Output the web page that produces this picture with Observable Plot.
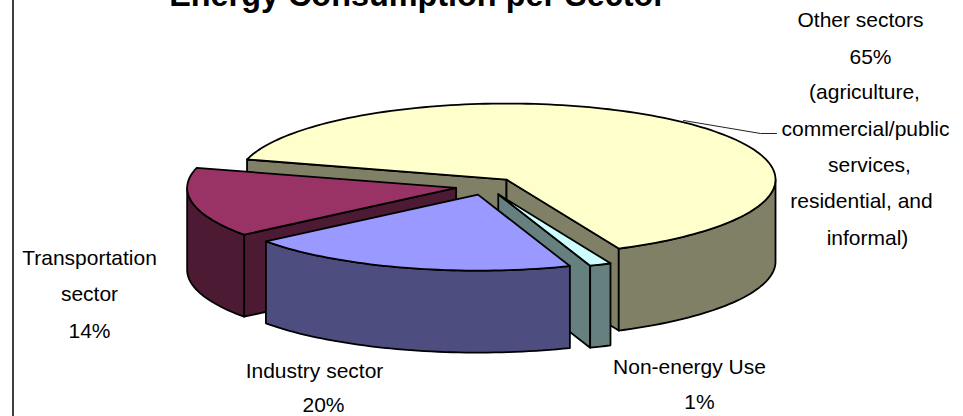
<!DOCTYPE html>
<html>
<head>
<meta charset="utf-8">
<script src="https://cdn.jsdelivr.net/npm/d3@7"></script>
<script src="https://cdn.jsdelivr.net/npm/@observablehq/plot@0.6"></script>
<style>
html,body{margin:0;padding:0;background:#fff}
svg{display:block}
</style>
</head>
<body>
<div id="chart"></div>
<script>
// Sectors in clockwise drawing order, starting from the pie's rear-left cut.
const sectors = ["Other sectors", "Non-energy Use", "Industry sector", "Transportation sector"];
const shares = [63.9, 1.3, 20, 14.8];
const topColors = ["#FFFFCC", "#CCFFFF", "#9999FF", "#993366"];
const sideColors = ["#808066", "#668080", "#4D4D80", "#4D1A33"];
const paintOrder = ["Other sectors", "Transportation sector", "Non-energy Use", "Industry sector"];

const titleText = "Energy Consumption per Sector";
const labelLines = [
  "Other sectors", "65%", "(agriculture,", "commercial/public", "services,", "residential, and", "informal)",
  "Transportation", "sector", "14%", "Industry sector", "20%", "Non-energy Use", "1%"
];
const labelXs = [860, 870, 864, 865, 869, 861, 867, 89, 89, 89, 314, 323, 689, 699];
const labelYs = [20, 57, 92, 129, 165, 201, 238, 258, 294, 331, 371, 405, 367, 402];

const width = 963, height = 416;
const pie = {cx: 486, cy: 185.7, rx: 269, ry: 76, depth: 82, explode: 0.115, start: 195.3};
const rad = Math.PI / 180;

function rim(c, t, dy = 0) {
  return {x: c.x + pie.rx * Math.cos(t * rad), y: c.y + pie.ry * Math.sin(t * rad) + dy};
}
function arc(c, a, b, dy = 0) {
  const n = Math.max(2, Math.ceil(Math.abs(b - a) / 1.5));
  return d3.range(n + 1).map(i => rim(c, a + (b - a) * i / n, dy));
}
function close(p) { return [...p, p[0]]; }

// Turn shares into wedges: angle range and exploded apex.
let acc = pie.start;
const wedges = sectors.map((name, i) => {
  const a = acc, b = acc + shares[i] / 100 * 360;
  acc = b;
  const m = (a + b) / 2 * rad;
  const apex = {
    x: pie.cx + pie.explode * pie.rx * Math.cos(m),
    y: pie.cy + pie.explode * pie.ry * Math.sin(m)
  };
  return {name, a, b, apex, top: topColors[i], side: sideColors[i]};
});

function wedgePolygons(w) {
  const out = [];
  const cut = t => close([w.apex, rim(w.apex, t), rim(w.apex, t, pie.depth), {x: w.apex.x, y: w.apex.y + pie.depth}]);
  if (Math.cos(w.a * rad) < 0) out.push({pts: cut(w.a), fill: w.side});
  if (Math.cos(w.b * rad) > 0) out.push({pts: cut(w.b), fill: w.side});
  // outer wall: only the part of the rim facing the viewer
  for (const [lo, hi] of [[0, 180], [360, 540]]) {
    const a = Math.max(w.a, lo), b = Math.min(w.b, hi);
    if (a < b) {
      out.push({pts: close([...arc(w.apex, a, b), ...arc(w.apex, b, a, pie.depth)]), fill: w.side});
    }
  }
  out.push({pts: close([w.apex, ...arc(w.apex, w.a, w.b)]), fill: w.top});
  return out;
}

const polygonMarks = paintOrder.flatMap(name =>
  wedgePolygons(wedges.find(w => w.name === name)).map(p =>
    Plot.line(p.pts, {x: "x", y: "y", fill: p.fill, stroke: "#000", strokeWidth: 1.8, strokeLinejoin: "round"})
  )
);

const leader = [{x: 683, y: 120}, {x: 760, y: 133}, {x: 776, y: 133}];
const labelData = labelLines.map((text, i) => ({text, x: labelXs[i], y: labelYs[i]}));

const chart = Plot.plot({
  width, height,
  margin: 0,
  x: {domain: [0, width], range: [0, width], axis: null},
  y: {domain: [0, height], range: [0, height], axis: null},
  style: {background: "#fff", fontFamily: "'Liberation Sans', Arial, sans-serif"},
  marks: [
    Plot.ruleX([12.5], {stroke: "#000", strokeWidth: 1.5}),
    Plot.line(leader, {x: "x", y: "y", stroke: "#222", strokeWidth: 1}),
    ...polygonMarks,
    Plot.text([titleText], {x: () => 417, y: () => 5, text: d => d, fontSize: 32.4, fontWeight: "bold", fill: "#000", textAnchor: "middle", lineAnchor: "bottom"}),
    Plot.text(labelData, {x: "x", y: "y", text: "text", fontSize: 21, fill: "#000", textAnchor: "middle", lineAnchor: "middle"})
  ]
});
document.getElementById("chart").append(chart);
</script>
</body>
</html>
